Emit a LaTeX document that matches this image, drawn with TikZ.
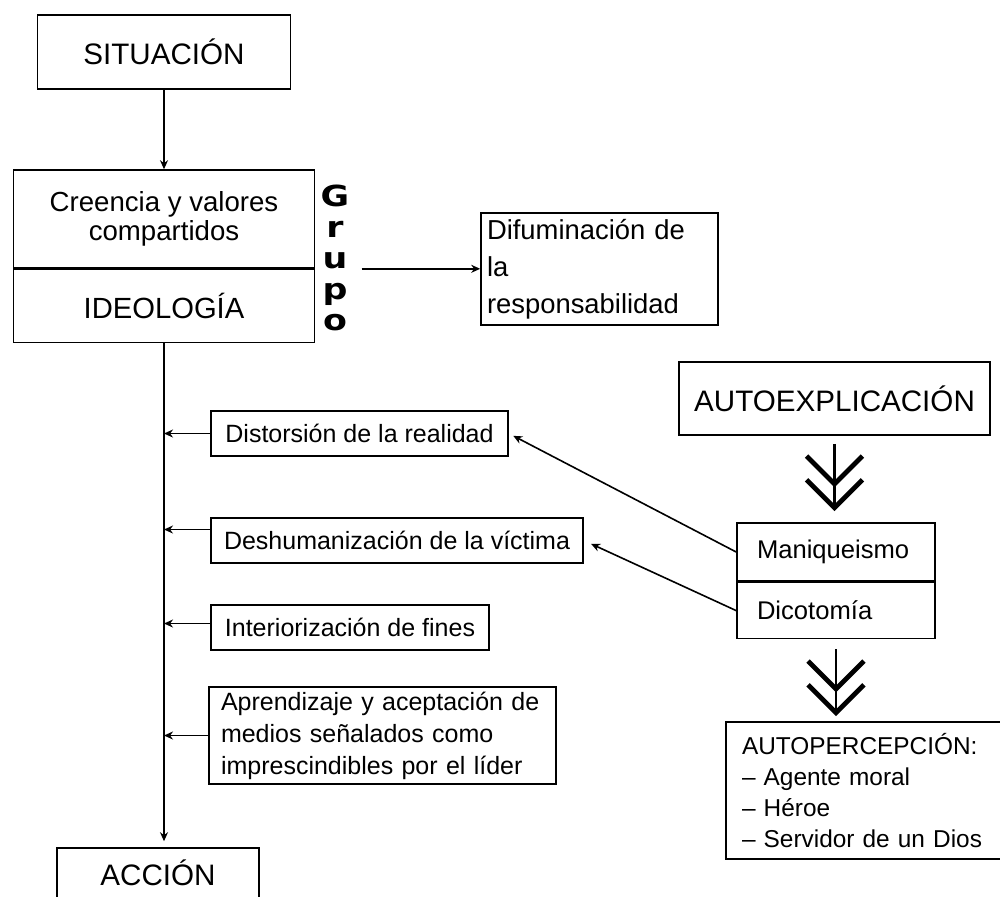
\documentclass[tikz,border=0pt]{standalone}
\usepackage{fontspec}
\setmainfont{Liberation Sans}
\newfontfamily\grupofont[FakeStretch=1.2]{DejaVu Sans}
\usetikzlibrary{arrows, arrows.meta, positioning}
\newcommand{\setsz}[2]{\fontsize{#1}{#2}\selectfont}

\begin{document}
\begin{tikzpicture}[x=0.5pt,y=-0.5pt]
\tikzstyle{arrow} = [thick,->,>={Stealth[length=4.5pt,width=4pt]}]
\tikzstyle{box} = [draw,thick,inner sep=0pt]
\tikzstyle{big} = [box,font=\setsz{14.8}{17}]
\tikzstyle{small} = [box,font=\setsz{12.5}{15},minimum height=22.5pt]
\tikzstyle{chevron} = [line width=1.3pt,-{Straight Barb[length=14pt,width=28pt,line width=2.4pt,sep=-5pt]Straight Barb[length=14pt,width=28pt,line width=2.4pt]}]

\useasboundingbox (0,0) rectangle (1000,896);

%Left column: situation, group beliefs and action
\node[big,minimum width=126.5pt,minimum height=37pt] (situ) at (164,52) {SITUACIÓN};
\node[box,font=\setsz{13.8}{14.5},minimum width=150.5pt,minimum height=49pt,align=center] (creencia) at (164,219) {Creencia y valores\\compartidos};
\node[box,font=\setsz{14.6}{17},minimum width=150.5pt,minimum height=36.5pt,below=0pt of creencia] (ideologia) {IDEOLOGÍA};
\node[big,minimum width=101pt,minimum height=25pt] (accion) at (158,873) {ACCIÓN};
\node[font=\grupofont\bfseries\setsz{14.5}{15.5},align=center,inner sep=0pt] (grupo) at (335,258) {G\\r\\u\\p\\o};
\node[box,font=\setsz{13.7}{18.5},text width=112.5pt,inner xsep=3pt,minimum height=56pt,align=left] (difum) at (599.5,269) {Difuminación de\\la\\responsabilidad};

%Mechanisms feeding the line to action
\node[small,minimum width=148.5pt] (distor) at (359.5,433.5) {Distorsión de la realidad};
\node[small,minimum width=186pt] (deshum) at (397,540.5) {Deshumanización de la víctima};
\node[small,minimum width=139pt] (interior) at (350,627.5) {Interiorización de fines};
\node[box,font=\setsz{12.5}{16},text width=161.5pt,inner xsep=6pt,minimum height=48.5pt,align=left] (aprend) at (382.5,735.5) {Aprendizaje y aceptación de\\medios señalados como\\imprescindibles por el líder};

%Right column: self explanation
\node[big,minimum width=155.5pt,minimum height=36.5pt] (autoexp) at (834.5,398.5) {AUTOEXPLICACIÓN};
\node[box,font=\setsz{12.8}{15},text width=79pt,inner xsep=10pt,minimum height=29pt,align=left] (mani) at (836,552) {Maniqueismo};
\node[box,font=\setsz{12.8}{15},text width=79pt,inner xsep=10pt,minimum height=28pt,align=left,below=0pt of mani] (dico) {Dicotomía};
\node[box,font=\setsz{12.2}{15.5},text width=127pt,inner xsep=8pt,minimum height=68.5pt,align=left] (autoperc) at (869,790.5) {AUTOPERCEPCIÓN:\\– Agente moral\\– Héroe\\– Servidor de un Dios};

%Main line from situation to action
\draw[arrow] (situ) -- (creencia);
\coordinate (spine) at (ideologia.south);
\draw[arrow,shorten >=3pt] (spine) -- (spine |- accion.north);
\draw[arrow,shorten <=6pt] (grupo.east |- ideologia.north) -- (difum.west |- ideologia.north);

%Arrows into the main line
\draw[arrow] (distor.west) -- (distor.west -| spine);
\draw[arrow] ([yshift=5.5pt]deshum.west) -- ([yshift=5.5pt]deshum.west -| spine);
\draw[arrow] ([yshift=2pt]interior.west) -- ([yshift=2pt]interior.west -| spine);
\draw[arrow] (aprend.west) -- (aprend.west -| spine);

%Maniqueism feeds distortion and dehumanisation
\draw[arrow,shorten >=2.5pt] (mani.west) -- (distor.east);
\draw[arrow,shorten >=4pt] (dico.west) -- (deshum.east);

%Double chevrons
\draw[chevron,shorten <=4pt,shorten >=5.5pt] (autoexp.south) -- (autoexp.south |- mani.north);
\draw[chevron,shorten <=5pt,shorten >=2.5pt] (dico.south) -- (dico.south |- autoperc.north);

\end{tikzpicture}
\end{document}
